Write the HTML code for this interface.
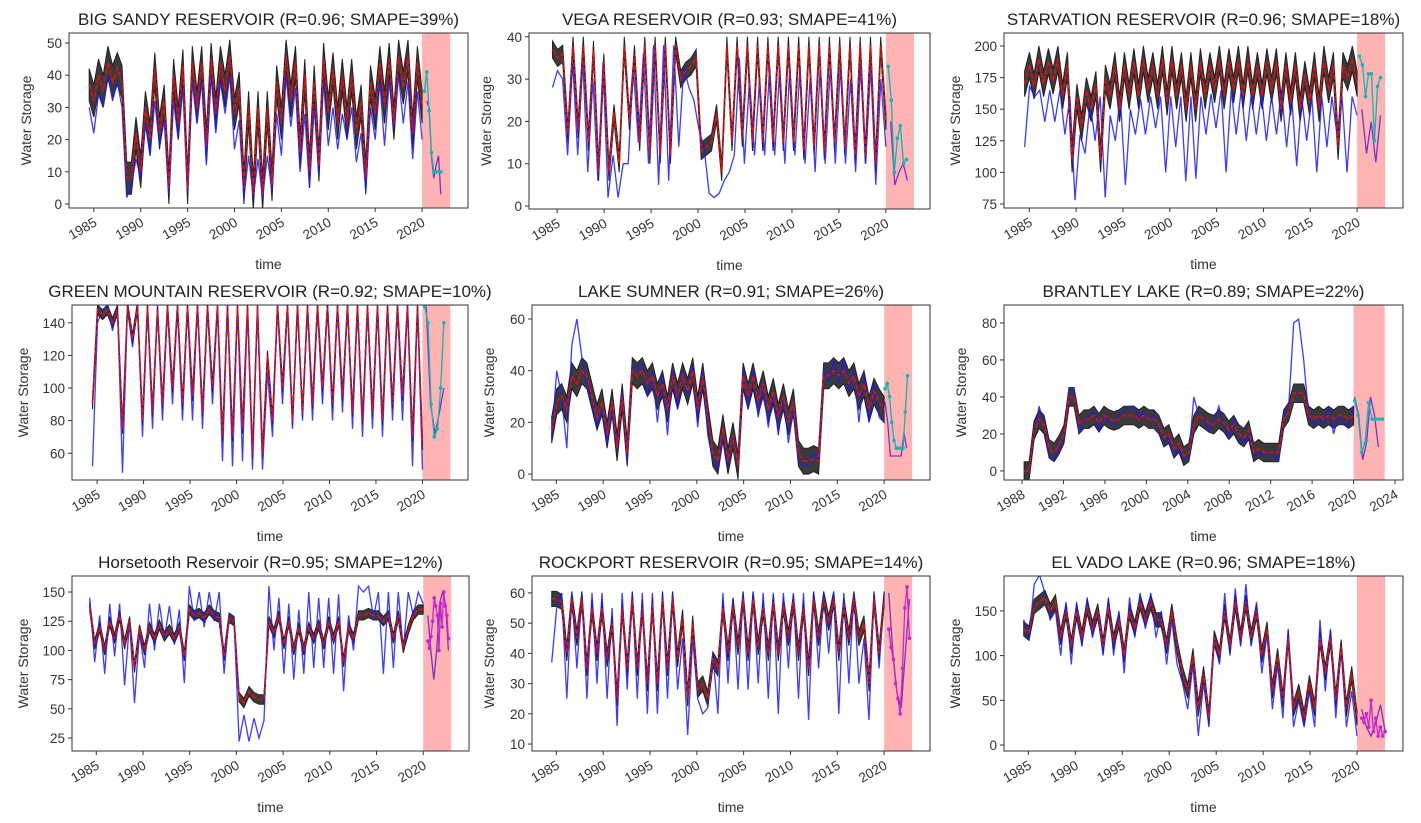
<!DOCTYPE html>
<html><head><meta charset="utf-8"><style>
body{margin:0;background:#fff;}
svg{display:block;font-family:"Liberation Sans",sans-serif;}
</style></head><body>
<svg id="fig" width="1421" height="823" viewBox="0 0 1421 823" xmlns="http://www.w3.org/2000/svg"></svg>
<script>
// ---- data (half-yearly readings, approximate) ----
const bigSandyObs=[30,22,34,30,40,32,38,30,2,6,14,8,25,15,32,18,26,3,32,20,36,3,38,25,38,12,40,22,38,28,40,17,26,2,15,2,14,2,15,4,28,15,40,24,36,10,28,5,30,9,38,18,30,17,28,20,30,13,22,4,30,20,38,18,38,24,40,25,38,14,35,20];
const bigSandyPred=[37,32,40,35,44,38,42,38,8,8,22,10,30,20,42,22,32,5,40,25,43,5,44,30,44,18,45,28,44,35,46,28,36,5,30,3,30,3,30,6,38,25,46,32,44,16,40,10,38,12,45,28,42,25,40,25,40,22,32,8,38,28,44,30,45,25,46,36,46,22,44,30];
const bigSandyFcst=[35,41,29,16,10,10,10,10];
const bigSandyFObs=[32,30,15,8,12,15,3];
const vegaObs=[28,32,30,12,34,12,34,8,30,6,34,2,12,2,10,10,33,15,36,10,38,5,38,6,38,14,33,28,25,18,14,3,2,3,6,8,12,35,10,30,12,30,12,33,12,33,10,33,12,33,10,30,8,33,10,33,10,33,10,30,8,33,10,33,5,30,14];
const vegaPred=[37,35,36,17,38,18,38,15,37,8,34,8,22,10,38,20,36,15,38,12,38,12,38,12,38,30,32,33,35,13,14,15,22,8,38,15,38,16,38,15,38,15,38,15,38,15,38,15,38,13,38,14,38,13,38,15,38,14,38,12,38,12,38,10,38,20];
const vegaFcst=[33,25,8,16,19,10,11];
const vegaFObs=[20,5,8,10,6];
const starvObs=[120,168,160,165,140,165,140,165,130,160,78,130,115,155,125,160,80,145,125,160,90,150,130,158,130,160,135,160,100,160,120,160,93,160,95,160,130,162,135,165,100,165,130,165,125,162,130,162,125,160,130,165,120,160,105,160,125,160,100,160,120,160,130,160,100,160,145];
const starvPred=[170,185,168,190,170,188,172,190,160,185,110,160,135,165,150,170,110,175,160,185,150,185,160,188,160,190,165,185,160,190,155,190,160,185,150,185,150,188,160,185,165,190,160,188,165,190,160,190,160,185,160,188,165,188,150,185,155,185,150,178,155,185,150,190,165,185,120,185,175,190,170];
const starvFcst=[192,185,160,178,178,125,168,175];
const starvFObs=[150,115,140,108,145];
const greenObs=[52,140,148,150,135,150,48,150,125,152,70,150,75,150,80,150,90,150,80,150,80,152,75,150,90,150,55,152,52,150,55,150,50,150,50,110,70,152,90,150,75,152,80,150,80,150,90,152,80,150,85,152,75,150,70,150,75,150,70,150,80,150,80,152,52,150,50];
const greenPred=[90,148,145,148,140,148,75,150,130,150,80,150,85,148,90,150,100,150,90,150,95,150,85,150,100,150,70,150,70,150,75,150,60,150,60,120,80,150,100,150,80,150,85,150,90,150,100,150,90,150,95,150,85,150,80,150,85,150,80,150,90,150,95,150,70,150,65];
const greenFcst=[150,140,90,70,75,100,140];
const greenFObs=[150,90,72,85,100];
const sumnerObs=[14,40,30,10,50,60,45,35,28,18,25,12,25,9,32,5,42,40,43,30,40,20,38,15,40,25,40,30,42,18,40,15,5,2,15,3,15,3,40,25,40,22,35,18,32,15,30,12,25,5,3,4,8,5,40,36,44,35,45,32,40,20,38,20,35,22,20];
const sumnerPred=[17,28,30,25,38,35,40,38,30,22,28,15,28,10,30,8,40,38,40,35,38,30,35,25,38,30,38,32,40,25,38,22,8,5,18,5,15,3,38,30,38,28,35,25,32,22,30,20,28,8,5,5,6,5,38,38,40,38,40,35,38,30,35,25,32,28,25];
const sumnerFcst=[33,35,30,20,13,10,10,10,10,24,38];
const sumnerFObs=[28,20,7,7,7,7,7,16,10];
const brantleyObs=[0,0,20,35,25,8,6,12,18,45,45,20,28,30,32,22,30,26,25,30,32,35,35,28,32,28,30,22,15,18,8,12,6,8,40,30,28,22,26,35,25,18,28,18,15,20,8,10,8,10,8,6,30,35,80,82,60,30,25,28,25,35,20,30,25,25,35];
const brantleyPred=[0,0,22,28,25,12,10,14,20,40,40,25,28,28,30,26,30,28,27,28,30,30,30,28,30,28,28,25,18,20,12,15,8,10,25,30,28,26,25,28,26,22,25,20,18,22,10,12,10,10,10,10,28,32,42,42,42,30,28,30,28,30,28,30,30,28,30];
const brantleyFcst=[38,30,10,15,37,28,28,28,28];
const brantleyFObs=[40,30,6,15,40,30,13];
const horseObs=[145,90,130,80,140,95,140,70,125,55,115,85,140,100,140,110,138,105,135,72,155,125,150,120,150,125,150,80,130,125,22,45,22,42,25,40,155,100,145,80,140,75,135,80,150,85,145,85,145,80,148,65,130,100,155,150,155,128,150,80,150,85,150,100,150,130,150,140];
const horsePred=[138,105,120,100,125,110,130,105,125,85,118,100,120,110,122,112,118,110,120,95,135,130,132,128,135,130,128,95,128,125,60,55,65,60,58,58,125,115,130,105,125,100,120,100,120,110,122,105,125,110,125,90,120,110,130,130,132,130,130,125,130,110,130,102,118,130,135,135];
const horseFcst=[108,102,112,125,145,138,130,100,140,120,150,138,130,110];
const horseFObs=[130,100,75,100,140,150,140,100];
const rockObs=[37,55,60,25,60,35,60,25,60,30,60,25,55,16,60,28,60,25,60,20,60,20,60,25,60,28,45,13,45,25,20,22,40,20,60,30,58,28,60,28,60,30,60,25,60,20,60,35,60,25,60,18,60,35,60,40,60,20,60,30,60,30,45,18,60,35,60];
const rockPred=[58,58,57,40,58,45,58,35,55,40,55,38,50,25,55,35,58,35,55,30,56,30,58,35,58,38,52,25,50,28,30,25,38,35,55,40,56,42,58,40,58,42,55,40,57,40,56,45,57,40,55,35,58,45,58,50,58,40,56,45,58,45,50,30,58,40,58];
const rockFcst=[48,42,38,30,25,20,35,55,62,45];
const rockFObs=[60,40,27,22,40,58];
const vadoObs=[140,120,180,190,170,140,150,100,160,90,160,110,165,120,150,100,165,100,150,80,165,120,170,130,170,120,150,90,140,90,70,40,90,10,70,20,120,90,170,100,175,110,180,110,160,80,125,40,90,30,130,20,50,20,60,20,140,60,130,30,110,20,60,10];
const vadoPred=[130,125,155,160,165,150,160,120,150,110,150,120,155,130,150,110,155,115,140,100,150,130,160,140,160,140,140,110,150,110,80,60,100,40,80,30,120,100,150,110,160,120,160,120,150,100,130,60,100,50,120,40,60,30,70,40,120,80,120,50,110,40,80,30];
const vadoFcst=[30,25,35,20,50,15,30,10,20,10,15];
const vadoFObs=[40,20,10,25,45,15];

const panels=[
 {id:'big-sandy',title:'BIG SANDY RESERVOIR (R=0.96; SMAPE=39%)',box:[69,33,468,208],x:[1982.35,2024.9],y:[-1.24,53.1],yt:[0,10,20,30,40,50],xt:[1985,1990,1995,2000,2005,2010,2015,2020],obs:bigSandyObs,pred:bigSandyPred,hs:1984.5,he:2020,f:bigSandyFcst,fo:bigSandyFObs,fs:[2020.25,2022],fos:[2020.5,2022],sp:5,fc:'#11b5b5'},
 {id:'vega',title:'VEGA RESERVOIR (R=0.93; SMAPE=41%)',box:[529,33,930,209],x:[1982.0,2024.7],y:[-0.7,40.9],yt:[0,10,20,30,40],xt:[1985,1990,1995,2000,2005,2010,2015,2020],obs:vegaObs,pred:vegaPred,hs:1984.5,he:2020,f:vegaFcst,fo:vegaFObs,fs:[2020.25,2022.2],fos:[2020.5,2022.3],sp:2,fc:'#11b5b5'},
 {id:'starvation',title:'STARVATION RESERVOIR (R=0.96; SMAPE=18%)',box:[1004,33,1403,208],x:[1982.3,2024.9],y:[71.8,210.3],yt:[75,100,125,150,175,200],xt:[1985,1990,1995,2000,2005,2010,2015,2020],obs:starvObs,pred:starvPred,hs:1984.5,he:2020,f:starvFcst,fo:starvFObs,fs:[2020.25,2022.5],fos:[2020.5,2022.5],sp:10,fc:'#11b5b5'},
 {id:'green-mountain',title:'GREEN MOUNTAIN RESERVOIR (R=0.92; SMAPE=10%)',box:[72,305,468,480],x:[1982.3,2024.9],y:[43.6,150.9],yt:[60,80,100,120,140],xt:[1985,1990,1995,2000,2005,2010,2015,2020],obs:greenObs,pred:greenPred,hs:1984.5,he:2020,f:greenFcst,fo:greenFObs,fs:[2020.25,2022.3],fos:[2020.4,2022.3],sp:3,fc:'#11b5b5'},
 {id:'lake-sumner',title:'LAKE SUMNER (R=0.91; SMAPE=26%)',box:[532,305,930,480],x:[1982.4,2024.9],y:[-2.3,65.4],yt:[0,20,40,60],xt:[1985,1990,1995,2000,2005,2010,2015,2020],obs:sumnerObs,pred:sumnerPred,hs:1984.5,he:2020,f:sumnerFcst,fo:sumnerFObs,fs:[2020.1,2022.5],fos:[2020.1,2022.4],sp:5,fc:'#11b5b5'},
 {id:'brantley-lake',title:'BRANTLEY LAKE (R=0.89; SMAPE=22%)',box:[1004,305,1403,480],x:[1986.26,2024.77],y:[-4.9,89.7],yt:[0,20,40,60,80],xt:[1988,1992,1996,2000,2004,2008,2012,2016,2020,2024],obs:brantleyObs,pred:brantleyPred,hs:1988.2,he:2020,f:brantleyFcst,fo:brantleyFObs,fs:[2020.1,2022.8],fos:[2020.1,2022.4],sp:5,fc:'#11b5b5'},
 {id:'horsetooth',title:'Horsetooth Reservoir (R=0.95; SMAPE=12%)',box:[72,576,469,751],x:[1982.4,2024.9],y:[13.9,163.7],yt:[25,50,75,100,125,150],xt:[1985,1990,1995,2000,2005,2010,2015,2020],obs:horseObs,pred:horsePred,hs:1984.3,he:2020,f:horseFcst,fo:horseFObs,fs:[2020.5,2022.7],fos:[2020.5,2022.7],sp:4,fc:'#cc22cc'},
 {id:'rockport',title:'ROCKPORT RESERVOIR (R=0.95; SMAPE=14%)',box:[532,576,930,751],x:[1982.4,2024.9],y:[7.7,65.6],yt:[10,20,30,40,50,60],xt:[1985,1990,1995,2000,2005,2010,2015,2020],obs:rockObs,pred:rockPred,hs:1984.5,he:2020,f:rockFcst,fo:rockFObs,fs:[2020.5,2022.7],fos:[2020.5,2022.7],sp:2.5,fc:'#cc22cc'},
 {id:'el-vado',title:'EL VADO LAKE (R=0.96; SMAPE=18%)',box:[1004,576,1403,751],x:[1982.4,2024.9],y:[-6.7,189],yt:[0,50,100,150],xt:[1985,1990,1995,2000,2005,2010,2015,2020],obs:vadoObs,pred:vadoPred,hs:1984.5,he:2020,f:vadoFcst,fo:vadoFObs,fs:[2020.5,2023],fos:[2020.5,2023],sp:8,fc:'#cc22cc'}
];

const NS='http://www.w3.org/2000/svg';
const svg=document.getElementById('fig');
function mk(tag,attrs,parent){const e=document.createElementNS(NS,tag);for(const k in attrs)e.setAttribute(k,attrs[k]);(parent||svg).appendChild(e);return e;}

panels.forEach(p=>{
 const [l,t,r,b]=p.box;
 const sx=v=>l+(v-p.x[0])/(p.x[1]-p.x[0])*(r-l);
 const sy=v=>b-(v-p.y[0])/(p.y[1]-p.y[0])*(b-t);
 const times=(arr,s,e)=>arr.map((_,i)=>s+(arr.length>1?i*(e-s)/(arr.length-1):0));
 const g=mk('g',{});
 
 
 const cid='clip-'+p.id;
 const cp=mk('clipPath',{id:cid},g);mk('rect',{x:l,y:t,width:r-l,height:b-t},cp);
 const plot=mk('g',{'clip-path':'url(#'+cid+')'},g);
 const win=mk('rect',{x:sx(2020),y:t,width:sx(2023)-sx(2020),height:b-t,fill:'#ff8080',opacity:'0.6'},plot);
 
 
 const ht=times(p.pred,p.hs,p.he);
 let bd='';
 p.pred.forEach((v,i)=>{bd+=(i?'L':'M')+sx(ht[i]).toFixed(1)+','+sy(v+p.sp).toFixed(1);});
 for(let i=p.pred.length-1;i>=0;i--)bd+='L'+sx(ht[i]).toFixed(1)+','+sy(p.pred[i]-p.sp).toFixed(1);
 const band=mk('path',{d:bd+'Z',fill:'#3a3a3a',stroke:'#222','stroke-width':'1'},plot);
 
 
 const line=(arr,s,e,attrs,name)=>{
  const tt=times(arr,s,e);
  const d=arr.map((v,i)=>(i?'L':'M')+sx(tt[i]).toFixed(1)+','+sy(v).toFixed(1)).join('');
  const el=mk('path',Object.assign({d:d,fill:'none'},attrs),plot);
  
  
  return tt;
 };
 line(p.obs,p.hs,p.he,{stroke:'#1a1aff','stroke-width':'1.3',opacity:'0.85'},'observed-line');
 line(p.pred,p.hs,p.he,{stroke:'#e01010','stroke-width':'1.6','stroke-dasharray':'5,2'},'predicted-median-line');
 line(p.fo,p.fos[0],p.fos[1],{stroke:'#7a30c8','stroke-width':'1.3'},'observed-forecast-period-line');
 const ft=line(p.f,p.fs[0],p.fs[1],{stroke:p.fc,'stroke-width':'1.3'},'forecast-line');
 p.f.forEach((v,i)=>{const c=mk('circle',{cx:sx(ft[i]),cy:sy(v),r:1.8,fill:p.fc},plot);
  
  });
 const fr=mk('rect',{x:l,y:t,width:r-l,height:b-t,fill:'none',stroke:'#333','stroke-width':'1'},g);
 
 
 p.yt.forEach(v=>{const y=sy(v);mk('line',{x1:l-4,x2:l,y1:y,y2:y,stroke:'#333'},g);
  const tx=mk('text',{x:l-7,y:y+5,'text-anchor':'end','font-size':'13.5',fill:'#333'},g);tx.textContent=v;
  
  });
 p.xt.forEach(v=>{const x=sx(v);mk('line',{x1:x,x2:x,y1:b,y2:b+4,stroke:'#333'},g);
  const tx=mk('text',{x:x+4,y:b+17,'text-anchor':'end','font-size':'13.5',fill:'#333',transform:'rotate(-30 '+(x+4)+' '+(b+17)+')'},g);tx.textContent=v;
  
  });
 const ti=mk('text',{x:(l+r)/2,y:t-8,'text-anchor':'middle','font-size':'17',fill:'#222'},g);ti.textContent=p.title;
 
 
 const xl=mk('text',{x:(l+r)/2,y:b+61,'text-anchor':'middle','font-size':'14',fill:'#333'},g);xl.textContent='time';
 
 
 const yx=l-(p.yt.some(v=>v>=100)?44:38),ym=(t+b)/2;
 const yl=mk('text',{x:yx,y:ym,'text-anchor':'middle','font-size':'14',fill:'#333',transform:'rotate(-90 '+yx+' '+ym+')'},g);yl.textContent='Water Storage';
 
 
});
</script>
</body></html>
